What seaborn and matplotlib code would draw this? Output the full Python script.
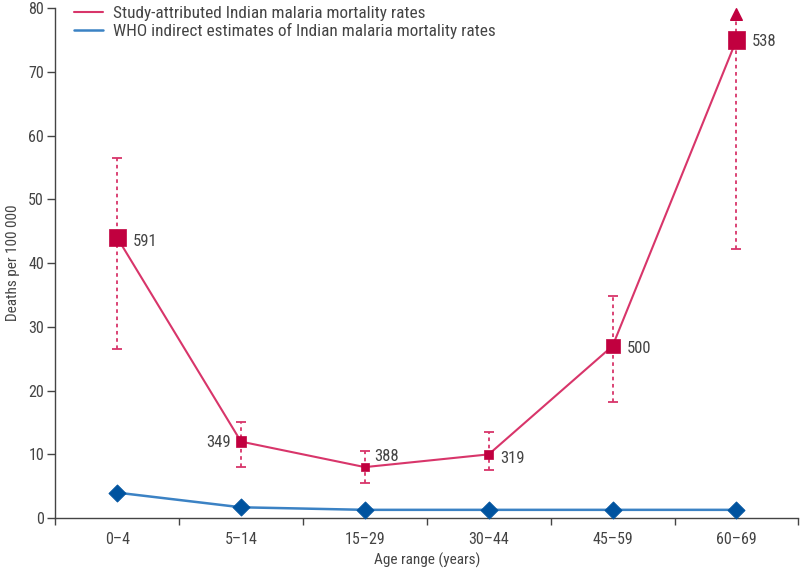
import numpy as np
import pandas as pd
import seaborn as sns
import matplotlib
matplotlib.use('Agg')
import matplotlib.pyplot as plt
from matplotlib import font_manager

# data
ages = ['0–4', '5–14', '15–29', '30–44', '45–59', '60–69']
study_rate = [44, 12, 8, 10, 27, 75]
study_low = [26.5, 8, 5.5, 7.5, 18.2, 42.2]
study_high = [56.5, 15, 10.5, 13.5, 34.8, 79]
study_deaths = [591, 349, 388, 319, 500, 538]
who_rate = [4, 1.7, 1.3, 1.3, 1.3, 1.3]

# marker areas (pt^2) and label offsets (points) per age group
marker_area = {'0–4': 150, '5–14': 55, '15–29': 36, '30–44': 38, '45–59': 100, '60–69': 165}
label_offset = {'0–4': (11, -3), '5–14': (-7, -1), '15–29': (7, 8),
                '30–44': (8, -3), '45–59': (10, -2), '60–69': (11, -1)}

red = '#c1003f'
red_line = '#d8356a'
blue = '#00539f'
blue_line = '#3b82c4'
grey = '#444444'

sns.set_style('white')


def pick_font(cands):
    for c in cands:
        try:
            font_manager.findfont(font_manager.FontProperties(family=c),
                                  fallback_to_default=False)
            return c
        except Exception:
            continue
    return 'DejaVu Sans'


font = pick_font(['Roboto Condensed', 'Liberation Sans Narrow', 'Liberation Sans'])
plt.rcParams['font.family'] = [font, 'DejaVu Sans']

df = pd.DataFrame({'pos': np.arange(len(ages)), 'age': ages, 'rate': study_rate,
                   'low': study_low, 'high': study_high, 'deaths': study_deaths,
                   'who': who_rate})

fig = plt.figure(figsize=(8, 5.7), dpi=100)
ax = fig.add_axes([0.069, 0.091, 0.929, 0.895])

# error bars (dotted) and caps
ax.vlines(df['pos'], df['low'], df['high'], colors=red_line, linestyles=(0, (2, 2)),
          lw=1.3, zorder=1)
ax.scatter(df['pos'], df['low'], marker='_', s=60, color=red_line, lw=1.3, zorder=1)
ax.scatter(df['pos'][:-1], df['high'][:-1], marker='_', s=60, color=red_line, lw=1.3, zorder=1)
ax.scatter(df['pos'].iloc[-1:], df['high'].iloc[-1:], marker='^', s=70, color=red,
           zorder=3, clip_on=False)

# lines
sns.lineplot(data=df, x='pos', y='rate', color=red_line, lw=1.5, ax=ax,
             label='Study-attributed Indian malaria mortality rates', zorder=2)
sns.lineplot(data=df, x='pos', y='who', color=blue_line, lw=1.8, ax=ax,
             label='WHO indirect estimates of Indian malaria mortality rates', zorder=2)

# markers
sns.scatterplot(data=df, x='pos', y='rate', size='age', sizes=marker_area,
                marker='s', color=red, edgecolor=red, legend=False, ax=ax, zorder=3)
sns.scatterplot(data=df, x='pos', y='who', marker='D', s=75, color=blue,
                edgecolor=blue, legend=False, ax=ax, zorder=3, clip_on=False)

# death count labels
for i, row in df.iterrows():
    dx, dy = label_offset[row['age']]
    ax.annotate(str(row['deaths']), (row['pos'], row['rate']), xytext=(dx, dy),
                textcoords='offset points', ha='left' if dx > 0 else 'right',
                va='center', fontsize=12, color=grey)

ax.set_xlim(-0.5, len(ages) - 0.5)
ax.set_ylim(0, 80)
ax.set_yticks(np.arange(0, 81, 10))
ax.set_xticks(np.arange(-0.5, len(ages)))
ax.set_xticklabels([])
ax.set_xticks(np.arange(len(ages)), minor=True)
ax.set_xticklabels(ages, minor=True)
ax.tick_params(axis='x', which='major', direction='out', length=5, width=1, color=grey,
               bottom=True)
ax.tick_params(axis='x', which='minor', length=0, pad=10, labelsize=11.5, labelcolor=grey)
ax.tick_params(axis='y', direction='out', length=6, width=1, color=grey, left=True,
               pad=2, labelsize=11.5, labelcolor=grey)
for s in ['top', 'right']:
    ax.spines[s].set_visible(False)
for s in ['left', 'bottom']:
    ax.spines[s].set_color(grey)
    ax.spines[s].set_linewidth(1)

ax.set_xlabel('Age range (years)', fontsize=11, color=grey, labelpad=4)
ax.set_ylabel('Deaths per 100 000', fontsize=11, color=grey, labelpad=6)

leg = ax.legend(loc='upper left', bbox_to_anchor=(0.004, 1.035), frameon=False,
                fontsize=12.4, handlelength=1.7, labelspacing=0.12, handletextpad=0.6)
for t in leg.get_texts():
    t.set_color(grey)

fig.savefig('out.png', dpi=100)
